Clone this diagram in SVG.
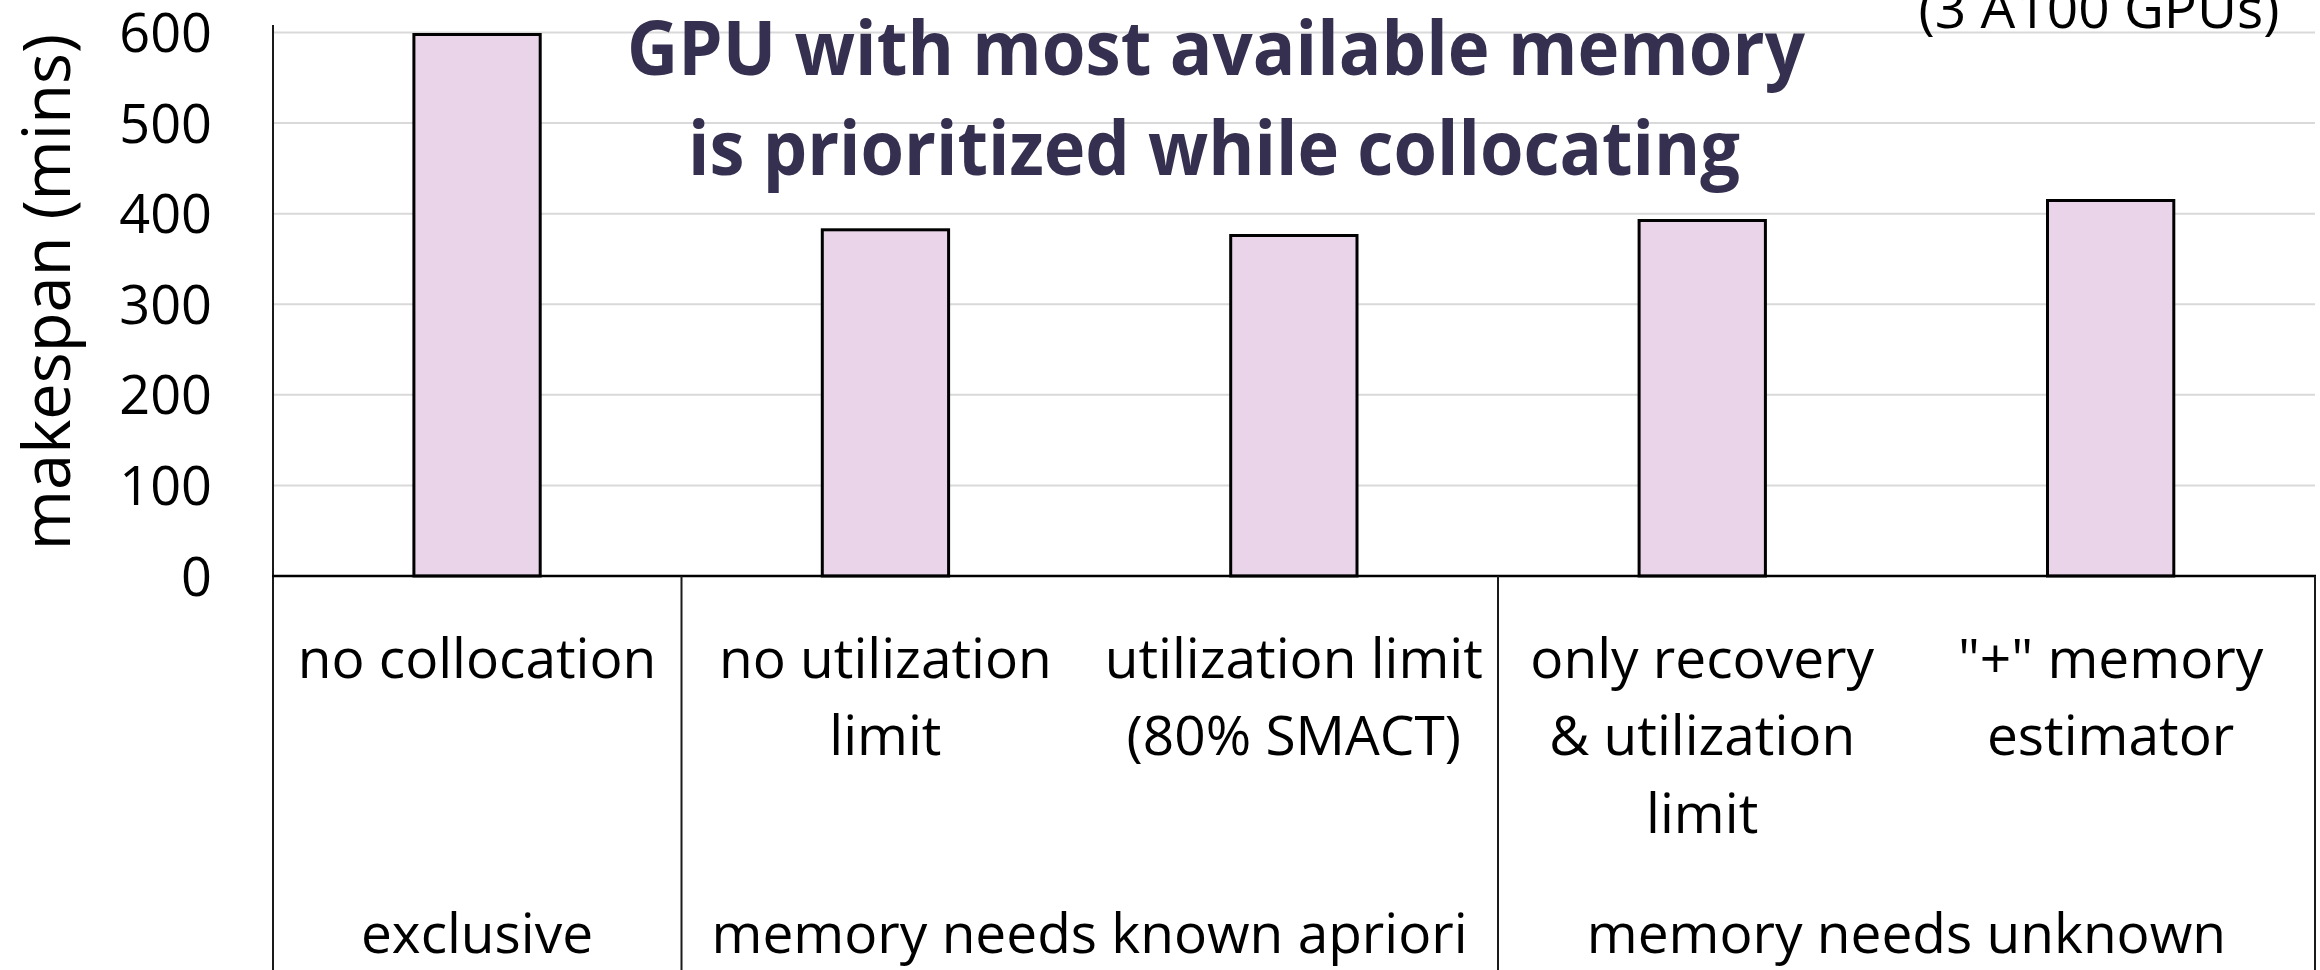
<svg xmlns="http://www.w3.org/2000/svg" width="2320" height="970" viewBox="0 0 2320 970">
  <style>
    .grid { stroke: #D9D9D9; stroke-width: 2; }
    .axis { stroke: #000000; stroke-width: 2.3; fill: none; }
    .sep { stroke: #1a1a1a; stroke-width: 2; fill: none; }
    .bar { fill: #EAD4EA; stroke: #000000; stroke-width: 3; }
    .tick { font-family: "Open Sans", "Liberation Sans", sans-serif; font-size: 54px; fill: #000; text-anchor: end; }
    .cat { font-family: "Open Sans", "Liberation Sans", sans-serif; font-size: 55px; fill: #000; text-anchor: middle; }
    .ytitle { font-family: "Open Sans", "Liberation Sans", sans-serif; font-size: 65px; fill: #000; text-anchor: middle; }
    .title { font-family: "Open Sans", "Liberation Sans", sans-serif; font-size: 76px; font-weight: bold; fill: #35304F; text-anchor: middle; }
  </style>
  <rect width="2320" height="970" fill="#FFFFFF"/>

  <g id="gridlines">
    <line class="grid" x1="273" y1="32.5" x2="2315" y2="32.5"/>
    <line class="grid" x1="273" y1="123.1" x2="2315" y2="123.1"/>
    <line class="grid" x1="273" y1="213.7" x2="2315" y2="213.7"/>
    <line class="grid" x1="273" y1="304.3" x2="2315" y2="304.3"/>
    <line class="grid" x1="273" y1="394.8" x2="2315" y2="394.8"/>
    <line class="grid" x1="273" y1="485.4" x2="2315" y2="485.4"/>
  </g>

  <g id="chart-title-fragment">
    <text class="cat" x="2099" y="28">(3 A100 GPUs)</text>
  </g>

  <g id="y-axis-labels">
    <text class="tick" x="212" y="52">600</text>
    <text class="tick" x="212" y="142.6">500</text>
    <text class="tick" x="212" y="233.2">400</text>
    <text class="tick" x="212" y="323.8">300</text>
    <text class="tick" x="212" y="414.3">200</text>
    <text class="tick" x="212" y="504.9">100</text>
    <text class="tick" x="212" y="595.5">0</text>
  </g>

  <g id="y-axis-title">
    <text class="ytitle" transform="translate(70,292) rotate(-90)">makespan (mins)</text>
  </g>

  <g id="bar-no-collocation">
    <rect class="bar" x="413.9" y="34.5" width="126.3" height="541.5"/>
  </g>
  <g id="bar-no-utilization-limit">
    <rect class="bar" x="822.3" y="229.8" width="126.3" height="346.2"/>
  </g>
  <g id="bar-utilization-limit">
    <rect class="bar" x="1230.7" y="235.5" width="126.3" height="340.5"/>
  </g>
  <g id="bar-only-recovery">
    <rect class="bar" x="1639.1" y="220.5" width="126.3" height="355.5"/>
  </g>
  <g id="bar-memory-estimator">
    <rect class="bar" x="2047.5" y="200.5" width="126.3" height="375.5"/>
  </g>

  <g id="axes">
    <line class="sep" x1="273" y1="25" x2="273" y2="970"/>
    <line class="axis" x1="272" y1="576" x2="2316" y2="576"/>
    <line class="sep" x1="681.5" y1="576" x2="681.5" y2="970"/>
    <line class="sep" x1="1498" y1="576" x2="1498" y2="970"/>
    <line class="sep" x1="2315" y1="576" x2="2315" y2="970"/>
  </g>

  <g id="title">
    <text class="title" x="1216" y="75" textLength="1178" lengthAdjust="spacingAndGlyphs">GPU with most available memory</text>
    <text class="title" x="1214" y="175" textLength="1052" lengthAdjust="spacingAndGlyphs">is prioritized while collocating</text>
  </g>

  <g id="label-no-collocation">
    <text class="cat" x="477" y="678">no collocation</text>
  </g>
  <g id="label-no-utilization-limit">
    <text class="cat" x="885.4" y="678">no utilization</text>
    <text class="cat" x="885.4" y="755">limit</text>
  </g>
  <g id="label-utilization-limit">
    <text class="cat" x="1293.8" y="678">utilization limit</text>
    <text class="cat" x="1293.8" y="755">(80% SMACT)</text>
  </g>
  <g id="label-only-recovery">
    <text class="cat" x="1702.2" y="678">only recovery</text>
    <text class="cat" x="1702.2" y="755">&amp; utilization</text>
    <text class="cat" x="1702.2" y="833">limit</text>
  </g>
  <g id="label-memory-estimator">
    <text class="cat" x="2110.6" y="678">"+" memory</text>
    <text class="cat" x="2110.6" y="755">estimator</text>
  </g>

  <g id="group-exclusive">
    <text class="cat" x="477" y="953">exclusive</text>
  </g>
  <g id="group-known">
    <text class="cat" x="1089.6" y="953">memory needs known apriori</text>
  </g>
  <g id="group-unknown">
    <text class="cat" x="1906.4" y="953">memory needs unknown</text>
  </g>
</svg>
